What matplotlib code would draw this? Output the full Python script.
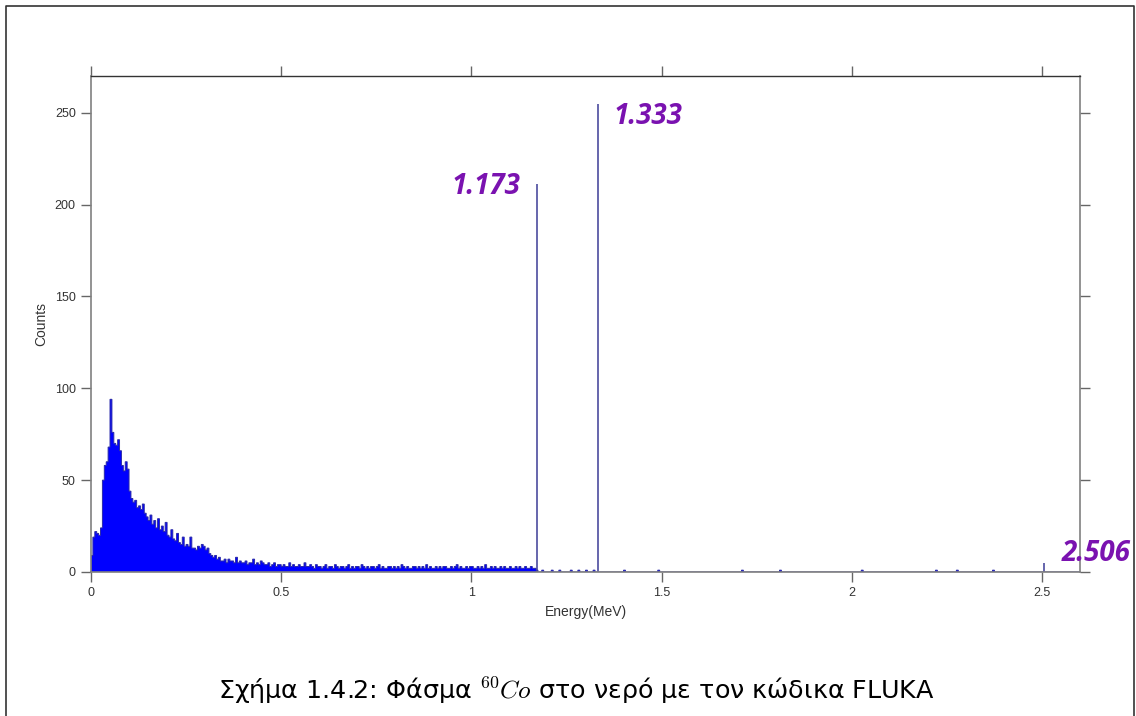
import numpy as np
import matplotlib
matplotlib.use("Agg")
import matplotlib.pyplot as plt
from matplotlib.lines import Line2D

plt.rcParams['mathtext.fontset'] = 'cm'

# spectrum, 0.005 MeV bins starting at 0
bin_width = 0.005
e_max = 2.6
low_counts = [
    9, 19, 22, 21, 20, 24, 50, 58, 60, 68,
    94, 76, 70, 69, 72, 66, 58, 55, 60, 56,
    44, 40, 38, 39, 35, 36, 34, 37, 32, 30,
    28, 31, 26, 28, 24, 29, 23, 25, 22, 27,
    20, 19, 23, 18, 17, 21, 16, 15, 19, 14,
    15, 14, 19, 13, 13, 12, 14, 13, 15, 14,
    12, 13, 10, 9, 8, 9, 7, 8, 6, 6,
    7, 5, 7, 6, 6, 5, 8, 5, 6, 5,
    5, 6, 4, 5, 5, 7, 4, 5, 4, 6,
    5, 4, 4, 5, 3, 4, 5, 3, 4, 4,
    3, 4, 3, 3, 5, 3, 4, 3, 3, 4,
    3, 3, 5, 3, 3, 4, 3, 2, 4, 3,
    3, 2, 3, 4, 2, 3, 3, 2, 4, 3,
    2, 3, 3, 2, 3, 4, 2, 3, 2, 3,
    3, 2, 4, 3, 2, 3, 2, 3, 3, 2,
    3, 4, 2, 3, 2, 2, 3, 3, 2, 3,
    2, 3, 2, 4, 3, 2, 3, 2, 2, 3,
    3, 2, 3, 2, 3, 2, 4, 2, 3, 2,
    2, 3, 2, 3, 2, 3, 3, 2, 2, 3,
    2, 3, 4, 2, 3, 2, 2, 3, 2, 3,
    3, 2, 2, 3, 2, 3, 2, 4, 2, 2,
    3, 2, 3, 2, 2, 3, 2, 3, 2, 2,
    3, 2, 2, 3, 2, 3, 2, 2, 3, 2,
    2, 3, 2, 2, 1,
]
# sparse counts above the continuum
tail_energy = [1.19, 1.21, 1.23, 1.26, 1.28, 1.30, 1.32, 1.40, 1.49, 1.71, 1.81, 2.03, 2.22, 2.28, 2.37]
tail_counts = [1, 1, 1, 1, 1, 1, 1, 1, 1, 1, 1, 1, 1, 1, 1]

# photopeaks
peak_energy = [1.173, 1.333, 2.506]
peak_counts = [211, 255, 5]
peak_labels = ['1.173', '1.333', '2.506']

n_bins = int(round(e_max / bin_width))
edges = np.arange(n_bins + 1) * bin_width
counts = np.zeros(n_bins)
counts[:len(low_counts)] = low_counts
for e, c in zip(tail_energy, tail_counts):
    counts[int(e / bin_width)] += c

fig = plt.figure(figsize=(11.36, 7.16), dpi=100)
ax = fig.add_axes([91 / 1136, 1 - 572 / 716, (1080 - 91) / 1136, (572 - 76) / 716])

ax.stairs(counts, edges, fill=True, color='#0000ff', linewidth=0)
ax.stairs(counts, edges, color='#2a2aa8', linewidth=0.7)
ax.vlines(peak_energy, 0, peak_counts, color='#3c3c96', linewidth=1.1)

purple = '#7a12b0'
lab_kw = dict(color=purple, fontsize=20, fontweight='bold', fontstyle='italic',
              family='Open Sans', va='center', clip_on=False)
ax.text(peak_energy[0] - 0.043, peak_counts[0] - 1, peak_labels[0], ha='right', **lab_kw)
ax.text(peak_energy[1] + 0.042, peak_counts[1] - 7, peak_labels[1], ha='left', **lab_kw)
ax.text(peak_energy[2] + 0.046, peak_counts[2] + 5, peak_labels[2], ha='left', **lab_kw)

ax.set_xlim(0, e_max)
ax.set_ylim(0, 270)
ax.set_xticks([0, 0.5, 1, 1.5, 2, 2.5])
ax.set_xticklabels(['0', '0.5', '1', '1.5', '2', '2.5'])
ax.set_yticks([0, 50, 100, 150, 200, 250])
ax.tick_params(direction='out', length=7, width=1, color='#666666', top=True, right=True,
               labelsize=9, labelcolor='#333333', pad=4)
for s in ['left', 'right', 'bottom']:
    ax.spines[s].set_color('#808080')
    ax.spines[s].set_linewidth(1.2)
ax.spines['top'].set_color('#333333')
ax.spines['top'].set_linewidth(1.0)

ax.set_xlabel('Energy(MeV)', fontsize=10, family='Liberation Sans', color='#333333', labelpad=4)
ax.set_ylabel('Counts', fontsize=10, family='Liberation Sans', color='#333333', labelpad=5)
for t in ax.get_xticklabels() + ax.get_yticklabels():
    t.set_family('Liberation Sans')

# outer frame
fx = [6 / 1136, 6 / 1136, 1134 / 1136, 1134 / 1136]
fy = [0, 1 - 6 / 716, 1 - 6 / 716, 0]
fig.add_artist(Line2D(fx, fy, transform=fig.transFigure, color='#333333', linewidth=1.2))

fig.text(576 / 1136, 1 - 690 / 716, r'Σχήμα 1.4.2: Φάσμα ${}^{60}Co$ στο νερό με τον κώδικα FLUKA',
         ha='center', va='center', fontsize=18.3, family='DejaVu Sans', color='black')

fig.savefig('out.png', dpi=100)
